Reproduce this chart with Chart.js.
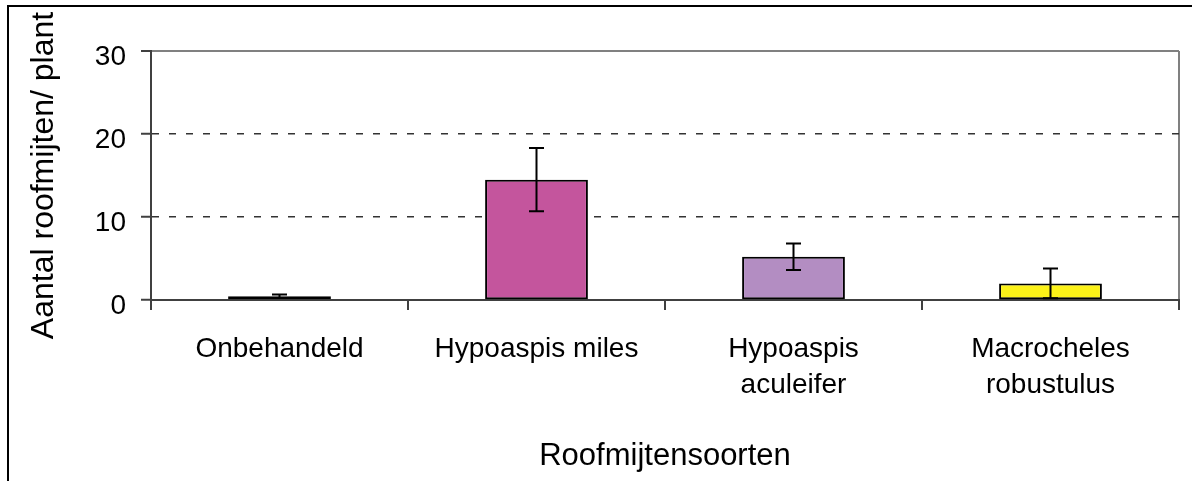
<!DOCTYPE html>
<html><head><meta charset="utf-8">
<script src="https://cdn.jsdelivr.net/npm/chart.js@4.4.0/dist/chart.umd.min.js"></script>
<style>
html,body{margin:0;padding:0;background:#fff;overflow:hidden;}
#wrap{position:relative;width:1192px;height:481px;overflow:hidden;}
#frame{position:absolute;left:7px;top:5px;width:1300px;height:600px;border-left:2px solid #000;border-top:2px solid #000;box-sizing:border-box;pointer-events:none;}
canvas{position:absolute;left:0;top:0;}
</style></head><body>
<div id="wrap"><canvas id="c" width="1192" height="481"></canvas><div id="frame"></div></div>
<script>
const categories = ['Onbehandeld', 'Hypoaspis miles', ['Hypoaspis', 'aculeifer'], ['Macrocheles', 'robustulus']];
const means = [0.45, 14.5, 5.2, 2.0];
const errors = [0.2, 3.8, 1.6, 1.8];
const barColors = ['#000000', '#C4559D', '#B38DC2', '#FCF218'];
const yTicks = [0, 10, 20, 30];
const yTitle = 'Aantal roofmijten/ plant';
const xTitle = 'Roofmijtensoorten';

const FONT = "'Liberation Sans', Arial, Helvetica, sans-serif";

const errorBars = {
  id: 'errorBars',
  afterDatasetsDraw(chart) {
    const ctx = chart.ctx;
    const meta = chart.getDatasetMeta(0);
    const ys = chart.scales.y;
    ctx.save();
    ctx.strokeStyle = '#000';
    ctx.lineWidth = 2;
    meta.data.forEach((bar, i) => {
      const x = bar.x;
      const yHi = ys.getPixelForValue(means[i] + errors[i]);
      const yLo = ys.getPixelForValue(means[i] - errors[i]);
      ctx.beginPath();
      ctx.moveTo(x, yHi); ctx.lineTo(x, yLo);
      ctx.moveTo(x - 7.5, yHi); ctx.lineTo(x + 7.5, yHi);
      ctx.moveTo(x - 7.5, yLo); ctx.lineTo(x + 7.5, yLo);
      ctx.stroke();
    });
    ctx.restore();
  }
};

new Chart(document.getElementById('c'), {
  type: 'bar',
  data: {
    labels: categories,
    datasets: [{
      data: means,
      backgroundColor: barColors,
      borderColor: '#000',
      borderWidth: 2,
      borderSkipped: false,
      barPercentage: 0.4,
      categoryPercentage: 1.0
    }]
  },
  options: {
    responsive: false,
    animation: false,
    devicePixelRatio: 1,
    layout: { padding: { left: 0, right: 13, top: 51, bottom: 0 } },
    plugins: { legend: { display: false }, tooltip: { enabled: false } },
    scales: {
      x: {
        offset: true,
        grid: {
          offset: true,
          drawOnChartArea: true,
          color: (c) => c.type === 'scale' ? '#808080' : 'rgba(0,0,0,0)',
          lineWidth: 2,
          tickColor: '#404040',
          tickWidth: 2,
          tickLength: 10
        },
        border: { display: true, color: '#404040', width: 2 },
        ticks: {
          color: '#000',
          font: { family: FONT, size: 28, lineHeight: 1.29 },
          padding: 21,
          maxRotation: 0,
          autoSkip: false
        },
        title: {
          display: true,
          text: xTitle,
          color: '#000',
          font: { family: FONT, size: 31, lineHeight: 1.2 },
          padding: { top: 0, bottom: 6 }
        },
        afterFit: (s) => { s.height = 181; }
      },
      y: {
        min: 0, max: 30,
        afterBuildTicks: (s) => { s.ticks = yTicks.map(v => ({ value: v })); },
        grid: {
          color: (c) => {
            const v = c.tick ? c.tick.value : null;
            if (v === 30) return '#808080';
            if (v === 10 || v === 20) return '#333333';
            return '#404040';
          },
          lineWidth: (c) => (c.tick && c.tick.value === 30) ? 2 : 1.5,
          tickColor: '#404040',
          tickWidth: 2,
          tickLength: 10
        },
        border: {
          display: true, color: '#404040', width: 2,
          dash: (c) => (c.tick && (c.tick.value === 10 || c.tick.value === 20)) ? [7, 10] : []
        },
        ticks: {
          color: '#000',
          font: { family: FONT, size: 28 },
          padding: 15,
          labelOffset: 6
        },
        title: {
          display: true,
          text: yTitle,
          color: '#000',
          font: { family: FONT, size: 32, lineHeight: 1.2 },
          padding: { top: 25, bottom: 0 }
        },
        afterFit: (s) => { s.width = 151; }
      }
    }
  },
  plugins: [errorBars]
});
</script>
</body></html>
